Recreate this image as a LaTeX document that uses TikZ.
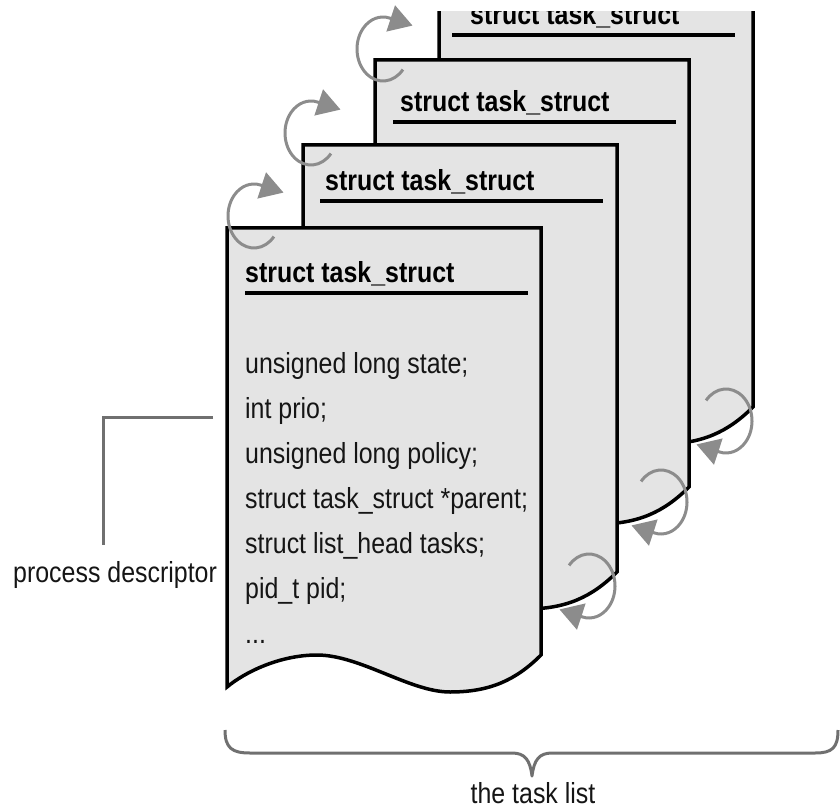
\documentclass[tikz,border=0pt]{standalone}
\usepackage{fontspec}
\setmainfont{Liberation Sans}[FakeStretch=0.86]
\usetikzlibrary{arrows.meta}
\definecolor{pagefill}{HTML}{E4E4E4}
\definecolor{arrowgray}{HTML}{8C8C8C}
\definecolor{linegray}{HTML}{707070}
\definecolor{textdark}{HTML}{151515}

\newcommand\taskpage[3]{% #1 = name, #2 = left, #3 = top
  \path[pagebox] (#2,#3) -- ({#2+314},#3) -- ({#2+314},{#3+427})
    .. controls ({#2+289},{#3+452}) and ({#2+263},{#3+464}) .. ({#2+223},{#3+464})
    .. controls ({#2+183},{#3+464}) and ({#2+133},{#3+427}) .. ({#2+90},{#3+427})
    .. controls ({#2+53},{#3+427}) and ({#2+18},{#3+444}) .. (#2,{#3+459})
    -- cycle;
  \coordinate (#1) at (#2,#3);
}
\newcommand\headline[4]{% #1 name, #2 text x, #3 baseline, #4 rule from x
  \node[hdrtext] (#1) at (#2,#3) {struct task\_struct};
  \draw[hdrrule] (#4,{#3+10}) -- ({#4+283},{#3+10});
}

\begin{document}
\begin{tikzpicture}[x=1pt,y=-1pt,
  pagebox/.style={fill=pagefill, draw=black, line width=3.5pt, line join=miter},
  hdrtext/.style={anchor=base west, inner sep=0pt, text=black,
    font=\fontsize{29}{29}\selectfont\bfseries},
  bodytext/.style={anchor=base west, inner sep=0pt, text=textdark,
    font=\fontsize{29}{29}\selectfont},
  labeltext/.style={inner sep=0pt, text=textdark,
    font=\fontsize{29}{29}\selectfont},
  hdrrule/.style={line width=4pt, black},
  cyclearrow/.style={draw=arrowgray, line width=3pt,
    -{Triangle[length=23pt,width=27pt,fill=arrowgray]}},
  guide/.style={draw=linegray, line width=3pt},
]
\useasboundingbox (0,0) rectangle (840,810);

\begin{scope}
  \clip (0,12) rectangle (840,810);
  \taskpage{p4}{439}{-20}
  \headline{h4}{470}{25}{452}
  \taskpage{p3}{375}{60}
  \headline{h3}{400}{112}{393}
  \taskpage{p2}{303}{145}
  \headline{h2}{325}{191}{320}
  \taskpage{p1}{227}{228}
  \headline{h1}{245}{283}{245}
\end{scope}

% fields of the front descriptor
\node[bodytext] (f1) at (245,373) {unsigned long state;};
\node[bodytext] (f2) at (245,418) {int prio;};
\node[bodytext] (f3) at (245,463) {unsigned long policy;};
\node[bodytext] (f4) at (245,508) {struct task\_struct *parent;};
\node[bodytext] (f5) at (245,553) {struct list\_head tasks;};
\node[bodytext] (f6) at (245,598) {pid\_t pid;};
\node[bodytext] (f7) at (245,643) {...};

% circular arrows, top left
\draw[cyclearrow] (254,216) ++(40:26 and 32)
  arc[start angle=40, end angle=285, x radius=26, y radius=32] -- ++(22.8,7.5);
\draw[cyclearrow] (311,133) ++(40:26 and 32)
  arc[start angle=40, end angle=285, x radius=26, y radius=32] -- ++(22.8,7.5);
\draw[cyclearrow] (383,49) ++(40:26 and 32)
  arc[start angle=40, end angle=285, x radius=26, y radius=32] -- ++(22.8,7.5);

% circular arrows, bottom right
\draw[cyclearrow] (589,586) ++(220:26 and 32)
  arc[start angle=220, end angle=465, x radius=26, y radius=32] -- ++(-22.8,-7.5);
\draw[cyclearrow] (661,502) ++(220:26 and 32)
  arc[start angle=220, end angle=465, x radius=26, y radius=32] -- ++(-22.8,-7.5);
\draw[cyclearrow] (726,421) ++(220:26 and 32)
  arc[start angle=220, end angle=465, x radius=26, y radius=32] -- ++(-22.8,-7.5);

% process descriptor label
\node[labeltext, anchor=base west] (pd) at (13,582) {process descriptor};
\coordinate (pdtip) at (213,417);
\coordinate (pdcorner) at (103,417);
\coordinate (pdfoot) at (103,545);
\draw[guide] (pdtip) -- (pdcorner) -- (pdfoot);

% brace and its label
\coordinate (bl) at (225,730);
\coordinate (br) at (838,730);
\coordinate (btip) at (532,776);
\draw[guide, line join=round] (bl) .. controls (225,748) and (232,753) .. (250,753)
  -- (512,753) .. controls (525,753) and (530,760) .. (btip)
  .. controls (534,760) and (539,753) .. (552,753)
  -- (815,753) .. controls (832,753) and (838,748) .. (br);
\node[labeltext, anchor=base] (tl) at (533,803) {the task list};
\end{tikzpicture}
\end{document}
